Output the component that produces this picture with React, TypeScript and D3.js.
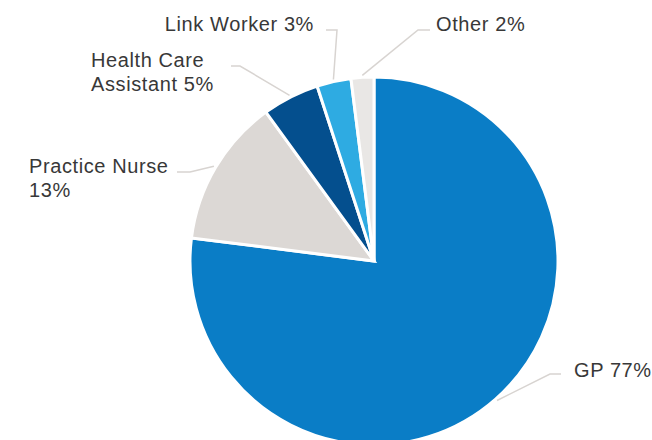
import * as d3 from 'd3';

// chart data
const categories = ['GP', 'Practice Nurse', 'Health Care Assistant', 'Link Worker', 'Other'];
const values = [77, 13, 5, 3, 2];
const labelLines = [
  ['GP 77%'],
  ['Practice Nurse', '13%'],
  ['Health Care', 'Assistant 5%'],
  ['Link Worker 3%'],
  ['Other 2%'],
];

const colors = ['#0a7dc6', '#dcd8d5', '#044f8e', '#2eabe2', '#e9e7e5'];

// label placement (elbow of leader line, line end, text anchor)
const layout = [
  { elbow: [550, 374], endX: 561, textX: 574, anchor: 'start', y: 377 },
  { elbow: [190, 172], endX: 177, textX: 29, anchor: 'start', y: 173 },
  { elbow: [240, 66], endX: 231, textX: 91, anchor: 'start', y: 67 },
  { elbow: [337, 30], endX: 326, textX: 314, anchor: 'end', y: 31 },
  { elbow: [418, 30], endX: 430, textX: 436, anchor: 'start', y: 31 },
];

export default function App() {
  const width = 652;
  const height = 440;
  const cx = 374;
  const cy = 261;
  const radius = 184;

  const pie = d3.pie<number>().sort(null).value(d => d);
  const arcs = pie(values);
  const arc = d3.arc<d3.PieArcDatum<number>>().innerRadius(0).outerRadius(radius);
  const outer = d3.arc<d3.PieArcDatum<number>>().innerRadius(radius + 2).outerRadius(radius + 2);

  return (
    <svg
      width={width}
      height={height}
      viewBox={`0 0 ${width} ${height}`}
      style={{ position: 'absolute', left: 0, top: 0, background: '#fff' }}
    >
      <g transform={`translate(${cx},${cy})`}>
        {arcs.map((a, i) => (
          <path key={categories[i]} d={arc(a) || ''} fill={colors[i]} stroke="#fff" strokeWidth={3} strokeLinejoin="miter" />
        ))}
      </g>
      {arcs.map((a, i) => {
        const [sx, sy] = outer.centroid(a);
        const l = layout[i];
        const pts: [number, number][] = [
          [cx + sx, cy + sy],
          [l.elbow[0], l.elbow[1]],
          [l.endX, l.elbow[1]],
        ];
        return (
          <g key={'lab' + i}>
            <path d={d3.line()(pts) || ''} fill="none" stroke="#d8d4d1" strokeWidth={1.5} />
            <text
              x={l.textX}
              y={l.y}
              textAnchor={l.anchor}
              fill="#383838"
              style={{ fontFamily: '"Liberation Sans", Arial, sans-serif', fontSize: '20px', letterSpacing: '0.6px' }}
            >
              {labelLines[i].map((line, j) => (
                <tspan key={j} x={l.textX} dy={j === 0 ? 0 : 24}>{line}</tspan>
              ))}
            </text>
          </g>
        );
      })}
    </svg>
  );
}
